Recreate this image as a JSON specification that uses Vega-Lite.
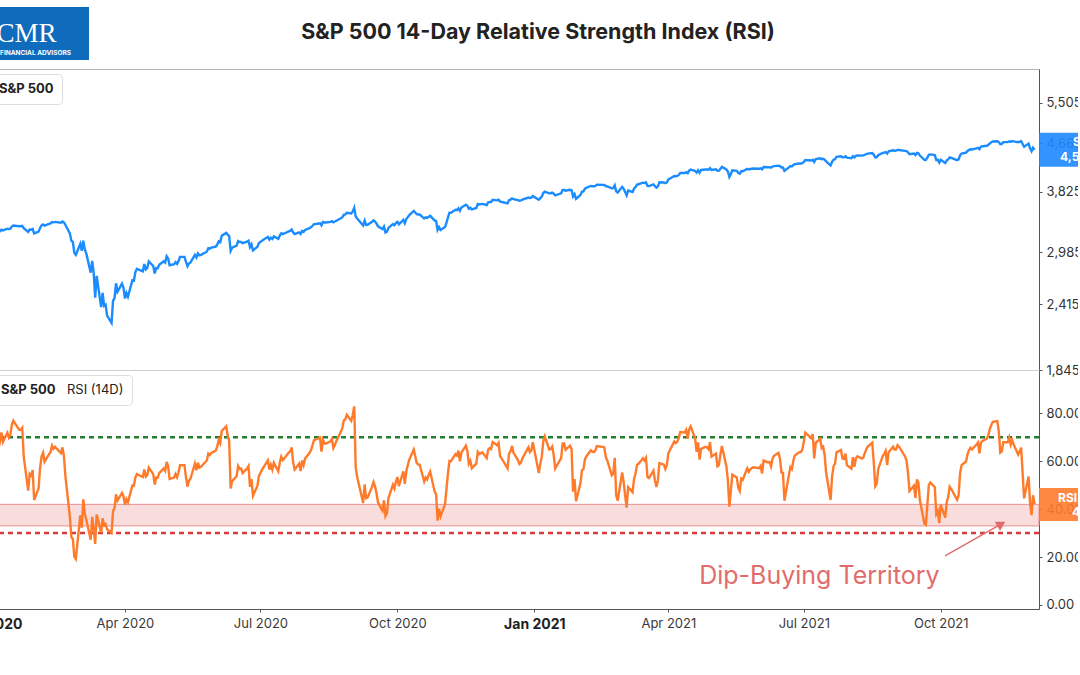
{
"$schema": "https://vega.github.io/schema/vega-lite/v6.json",
"padding": {"left": -44, "top": 7, "right": -46, "bottom": 10},
"background": "white",
"config": {"font": "Inter", "axis": {"labelFont": "Inter", "labelColor": "#333333", "domainColor": "#555555", "tickColor": "#555555", "labelFontSize": 13, "grid": false}},
"datasets": {"spx": [
{"d":"2019-12-31","p":3231,"r":67},{"d":"2020-01-02","p":3258,"r":71},{"d":"2020-01-03","p":3235,"r":63.5},{"d":"2020-01-06","p":3246,"r":65.5},
{"d":"2020-01-07","p":3237,"r":65.0},{"d":"2020-01-08","p":3253,"r":68.2},{"d":"2020-01-09","p":3275,"r":72.0},{"d":"2020-01-10","p":3265,"r":68.0},
{"d":"2020-01-13","p":3288,"r":71.9},{"d":"2020-01-14","p":3283,"r":69.9},{"d":"2020-01-15","p":3289,"r":70.9},{"d":"2020-01-16","p":3317,"r":75.2},
{"d":"2020-01-17","p":3330,"r":76.9},{"d":"2020-01-21","p":3321,"r":73.1},{"d":"2020-01-22","p":3321,"r":73.1},{"d":"2020-01-23","p":3326,"r":74.0},
{"d":"2020-01-24","p":3295,"r":61.9},{"d":"2020-01-27","p":3244,"r":47.7},{"d":"2020-01-28","p":3276,"r":54.7},{"d":"2020-01-29","p":3273,"r":54.0},
{"d":"2020-01-30","p":3284,"r":56.3},{"d":"2020-01-31","p":3226,"r":43.8},{"d":"2020-02-03","p":3249,"r":48.7},{"d":"2020-02-04","p":3298,"r":57.2},
{"d":"2020-02-05","p":3334,"r":62.1},{"d":"2020-02-06","p":3346,"r":63.6},{"d":"2020-02-07","p":3328,"r":59.8},{"d":"2020-02-10","p":3352,"r":63.0},
{"d":"2020-02-11","p":3358,"r":63.8},{"d":"2020-02-12","p":3379,"r":66.5},{"d":"2020-02-13","p":3374,"r":65.2},{"d":"2020-02-14","p":3380,"r":66.0},
{"d":"2020-02-18","p":3370,"r":63.4},{"d":"2020-02-19","p":3386,"r":65.8},{"d":"2020-02-20","p":3373,"r":62.2},{"d":"2020-02-21","p":3338,"r":53.8},
{"d":"2020-02-24","p":3226,"r":36.8},{"d":"2020-02-25","p":3128,"r":28.3},{"d":"2020-02-26","p":3116,"r":27.5},{"d":"2020-02-27","p":2979,"r":20.2},
{"d":"2020-02-28","p":2954,"r":19.2},{"d":"2020-03-02","p":3090,"r":37.4},{"d":"2020-03-03","p":3003,"r":32.3},{"d":"2020-03-04","p":3130,"r":44.1},
{"d":"2020-03-05","p":3024,"r":38.2},{"d":"2020-03-06","p":2972,"r":35.6},{"d":"2020-03-09","p":2747,"r":27.2},{"d":"2020-03-10","p":2882,"r":36.8},
{"d":"2020-03-11","p":2741,"r":32.1},{"d":"2020-03-12","p":2481,"r":25.5},{"d":"2020-03-13","p":2711,"r":37.7},{"d":"2020-03-16","p":2386,"r":30.2},
{"d":"2020-03-17","p":2529,"r":36.2},{"d":"2020-03-18","p":2398,"r":33.3},{"d":"2020-03-19","p":2409,"r":33.8},{"d":"2020-03-20","p":2305,"r":31.6},
{"d":"2020-03-23","p":2237,"r":30.1},{"d":"2020-03-24","p":2447,"r":39.2},{"d":"2020-03-25","p":2476,"r":40.4},{"d":"2020-03-26","p":2630,"r":46.2},
{"d":"2020-03-27","p":2541,"r":43.6},{"d":"2020-03-30","p":2627,"r":46.8},{"d":"2020-03-31","p":2585,"r":45.4},{"d":"2020-04-01","p":2471,"r":41.9},
{"d":"2020-04-02","p":2527,"r":44.2},{"d":"2020-04-03","p":2489,"r":42.9},{"d":"2020-04-06","p":2664,"r":49.9},{"d":"2020-04-07","p":2660,"r":49.8},
{"d":"2020-04-08","p":2750,"r":53.2},{"d":"2020-04-09","p":2790,"r":54.6},{"d":"2020-04-13","p":2762,"r":53.4},{"d":"2020-04-14","p":2846,"r":56.6},
{"d":"2020-04-15","p":2783,"r":53.6},{"d":"2020-04-16","p":2800,"r":54.3},{"d":"2020-04-17","p":2875,"r":57.4},{"d":"2020-04-20","p":2823,"r":54.6},
{"d":"2020-04-21","p":2737,"r":50.3},{"d":"2020-04-22","p":2799,"r":53.2},{"d":"2020-04-23","p":2798,"r":53.1},{"d":"2020-04-24","p":2837,"r":55.0},
{"d":"2020-04-27","p":2878,"r":57.0},{"d":"2020-04-28","p":2863,"r":56.0},{"d":"2020-04-29","p":2939,"r":59.7},{"d":"2020-04-30","p":2912,"r":57.9},
{"d":"2020-05-01","p":2831,"r":52.6},{"d":"2020-05-04","p":2843,"r":53.2},{"d":"2020-05-05","p":2868,"r":54.7},{"d":"2020-05-06","p":2848,"r":53.3},
{"d":"2020-05-07","p":2882,"r":55.4},{"d":"2020-05-08","p":2930,"r":58.3},{"d":"2020-05-11","p":2930,"r":58.3},{"d":"2020-05-12","p":2870,"r":53.3},
{"d":"2020-05-13","p":2820,"r":49.4},{"d":"2020-05-14","p":2852,"r":51.8},{"d":"2020-05-15","p":2864,"r":52.7},{"d":"2020-05-18","p":2954,"r":59.0},
{"d":"2020-05-19","p":2923,"r":56.2},{"d":"2020-05-20","p":2972,"r":59.4},{"d":"2020-05-21","p":2949,"r":57.3},{"d":"2020-05-22","p":2955,"r":57.7},
{"d":"2020-05-26","p":2992,"r":60.3},{"d":"2020-05-27","p":3036,"r":63.2},{"d":"2020-05-28","p":3030,"r":62.6},{"d":"2020-05-29","p":3044,"r":63.5},
{"d":"2020-06-01","p":3056,"r":64.4},{"d":"2020-06-02","p":3081,"r":66.2},{"d":"2020-06-03","p":3122,"r":68.9},{"d":"2020-06-04","p":3112,"r":67.5},
{"d":"2020-06-05","p":3194,"r":72.6},{"d":"2020-06-08","p":3232,"r":74.6},{"d":"2020-06-09","p":3207,"r":70.9},{"d":"2020-06-10","p":3190,"r":68.5},
{"d":"2020-06-11","p":3002,"r":48.6},{"d":"2020-06-12","p":3041,"r":51.7},{"d":"2020-06-15","p":3067,"r":53.7},{"d":"2020-06-16","p":3125,"r":58.0},
{"d":"2020-06-17","p":3113,"r":56.8},{"d":"2020-06-18","p":3115,"r":57.0},{"d":"2020-06-19","p":3098,"r":55.1},{"d":"2020-06-22","p":3118,"r":56.9},
{"d":"2020-06-23","p":3131,"r":58.0},{"d":"2020-06-24","p":3050,"r":49.3},{"d":"2020-06-25","p":3084,"r":52.5},{"d":"2020-06-26","p":3009,"r":45.6},
{"d":"2020-06-29","p":3053,"r":49.8},{"d":"2020-06-30","p":3100,"r":53.9},{"d":"2020-07-01","p":3115,"r":55.1},{"d":"2020-07-02","p":3130,"r":56.4},
{"d":"2020-07-06","p":3180,"r":60.4},{"d":"2020-07-07","p":3145,"r":56.5},{"d":"2020-07-08","p":3169,"r":58.5},{"d":"2020-07-09","p":3152,"r":56.5},
{"d":"2020-07-10","p":3185,"r":59.4},{"d":"2020-07-13","p":3155,"r":55.8},{"d":"2020-07-14","p":3197,"r":59.5},{"d":"2020-07-15","p":3227,"r":61.9},
{"d":"2020-07-16","p":3216,"r":60.5},{"d":"2020-07-17","p":3224,"r":61.2},{"d":"2020-07-20","p":3251,"r":63.6},{"d":"2020-07-21","p":3257,"r":64.1},
{"d":"2020-07-22","p":3276,"r":65.8},{"d":"2020-07-23","p":3236,"r":59.5},{"d":"2020-07-24","p":3216,"r":56.5},{"d":"2020-07-27","p":3239,"r":59.0},
{"d":"2020-07-28","p":3218,"r":55.9},{"d":"2020-07-29","p":3258,"r":60.3},{"d":"2020-07-30","p":3246,"r":58.4},{"d":"2020-07-31","p":3271,"r":61.1},
{"d":"2020-08-03","p":3295,"r":63.5},{"d":"2020-08-04","p":3306,"r":64.7},{"d":"2020-08-05","p":3327,"r":66.7},{"d":"2020-08-06","p":3349,"r":68.8},
{"d":"2020-08-07","p":3351,"r":69.0},{"d":"2020-08-10","p":3360,"r":69.9},{"d":"2020-08-11","p":3333,"r":64.0},{"d":"2020-08-12","p":3380,"r":68.9},
{"d":"2020-08-13","p":3373,"r":67.4},{"d":"2020-08-14","p":3373,"r":67.4},{"d":"2020-08-17","p":3381,"r":68.3},{"d":"2020-08-18","p":3390,"r":69.3},
{"d":"2020-08-19","p":3375,"r":65.5},{"d":"2020-08-20","p":3385,"r":66.8},{"d":"2020-08-21","p":3397,"r":68.4},{"d":"2020-08-24","p":3431,"r":72.3},
{"d":"2020-08-25","p":3444,"r":73.7},{"d":"2020-08-26","p":3479,"r":77.0},{"d":"2020-08-27","p":3485,"r":77.5},{"d":"2020-08-28","p":3508,"r":79.4},
{"d":"2020-08-31","p":3500,"r":76.9},{"d":"2020-09-01","p":3527,"r":79.2},{"d":"2020-09-02","p":3580,"r":82.9},{"d":"2020-09-03","p":3455,"r":57.4},
{"d":"2020-09-04","p":3427,"r":53.4},{"d":"2020-09-08","p":3331,"r":42.6},{"d":"2020-09-09","p":3399,"r":50.3},{"d":"2020-09-10","p":3339,"r":44.6},
{"d":"2020-09-11","p":3341,"r":44.8},{"d":"2020-09-14","p":3383,"r":49.4},{"d":"2020-09-15","p":3401,"r":51.3},{"d":"2020-09-16","p":3385,"r":49.5},
{"d":"2020-09-17","p":3357,"r":46.5},{"d":"2020-09-18","p":3319,"r":42.7},{"d":"2020-09-21","p":3281,"r":39.3},{"d":"2020-09-22","p":3315,"r":43.7},
{"d":"2020-09-23","p":3237,"r":37.1},{"d":"2020-09-24","p":3247,"r":38.3},{"d":"2020-09-25","p":3298,"r":44.6},{"d":"2020-09-28","p":3351,"r":50.2},
{"d":"2020-09-29","p":3335,"r":48.6},{"d":"2020-09-30","p":3363,"r":51.5},{"d":"2020-10-01","p":3381,"r":53.4},{"d":"2020-10-02","p":3348,"r":49.6},
{"d":"2020-10-05","p":3409,"r":55.8},{"d":"2020-10-06","p":3361,"r":50.6},{"d":"2020-10-07","p":3419,"r":55.9},{"d":"2020-10-08","p":3447,"r":58.3},
{"d":"2020-10-09","p":3477,"r":60.7},{"d":"2020-10-12","p":3535,"r":64.9},{"d":"2020-10-13","p":3512,"r":62.1},{"d":"2020-10-14","p":3489,"r":59.3},
{"d":"2020-10-15","p":3484,"r":58.6},{"d":"2020-10-16","p":3484,"r":58.6},{"d":"2020-10-19","p":3427,"r":51.5},{"d":"2020-10-20","p":3443,"r":53.2},
{"d":"2020-10-21","p":3436,"r":52.4},{"d":"2020-10-22","p":3453,"r":54.3},{"d":"2020-10-23","p":3465,"r":55.7},{"d":"2020-10-26","p":3401,"r":47.4},
{"d":"2020-10-27","p":3391,"r":46.3},{"d":"2020-10-28","p":3271,"r":35.2},{"d":"2020-10-29","p":3310,"r":40.2},{"d":"2020-10-30","p":3270,"r":37.0},
{"d":"2020-11-02","p":3310,"r":42.0},{"d":"2020-11-03","p":3370,"r":48.5},{"d":"2020-11-04","p":3443,"r":55.1},{"d":"2020-11-05","p":3510,"r":60.1},
{"d":"2020-11-06","p":3509,"r":60.0},{"d":"2020-11-09","p":3551,"r":63.0},{"d":"2020-11-10","p":3546,"r":62.4},{"d":"2020-11-11","p":3573,"r":64.4},
{"d":"2020-11-12","p":3538,"r":60.0},{"d":"2020-11-13","p":3585,"r":63.6},{"d":"2020-11-16","p":3627,"r":66.5},{"d":"2020-11-17","p":3610,"r":64.3},
{"d":"2020-11-18","p":3568,"r":59.0},{"d":"2020-11-19","p":3582,"r":60.2},{"d":"2020-11-20","p":3558,"r":57.1},{"d":"2020-11-23","p":3578,"r":59.0},
{"d":"2020-11-24","p":3636,"r":63.9},{"d":"2020-11-25","p":3630,"r":63.0},{"d":"2020-11-27","p":3638,"r":63.7},{"d":"2020-11-30","p":3622,"r":61.3},
{"d":"2020-12-01","p":3662,"r":64.9},{"d":"2020-12-02","p":3669,"r":65.5},{"d":"2020-12-03","p":3667,"r":65.1},{"d":"2020-12-04","p":3699,"r":68.0},
{"d":"2020-12-07","p":3692,"r":66.7},{"d":"2020-12-08","p":3702,"r":67.7},{"d":"2020-12-09","p":3673,"r":62.1},{"d":"2020-12-10","p":3668,"r":61.2},
{"d":"2020-12-11","p":3663,"r":60.2},{"d":"2020-12-14","p":3647,"r":57.0},{"d":"2020-12-15","p":3695,"r":63.2},{"d":"2020-12-16","p":3702,"r":64.1},
{"d":"2020-12-17","p":3722,"r":66.4},{"d":"2020-12-18","p":3709,"r":63.5},{"d":"2020-12-21","p":3695,"r":60.5},{"d":"2020-12-22","p":3687,"r":58.8},
{"d":"2020-12-23","p":3690,"r":59.3},{"d":"2020-12-24","p":3703,"r":61.3},{"d":"2020-12-28","p":3735,"r":65.8},{"d":"2020-12-29","p":3727,"r":63.8},
{"d":"2020-12-30","p":3732,"r":64.5},{"d":"2020-12-31","p":3756,"r":67.9},{"d":"2021-01-04","p":3701,"r":55.1},{"d":"2021-01-05","p":3726,"r":58.9},
{"d":"2021-01-06","p":3748,"r":61.9},{"d":"2021-01-07","p":3804,"r":68.4},{"d":"2021-01-08","p":3825,"r":70.4},{"d":"2021-01-11","p":3799,"r":64.9},
{"d":"2021-01-12","p":3801,"r":65.1},{"d":"2021-01-13","p":3810,"r":66.1},{"d":"2021-01-14","p":3795,"r":62.7},{"d":"2021-01-15","p":3768,"r":57.0},
{"d":"2021-01-19","p":3799,"r":61.3},{"d":"2021-01-20","p":3852,"r":67.4},{"d":"2021-01-21","p":3853,"r":67.5},{"d":"2021-01-22","p":3841,"r":64.8},
{"d":"2021-01-25","p":3855,"r":66.5},{"d":"2021-01-26","p":3849,"r":65.1},{"d":"2021-01-27","p":3751,"r":47.3},{"d":"2021-01-28","p":3788,"r":52.6},
{"d":"2021-01-29","p":3714,"r":43.3},{"d":"2021-02-01","p":3774,"r":50.9},{"d":"2021-02-02","p":3826,"r":56.3},{"d":"2021-02-03","p":3830,"r":56.7},
{"d":"2021-02-04","p":3872,"r":60.8},{"d":"2021-02-05","p":3887,"r":62.1},{"d":"2021-02-08","p":3915,"r":64.6},{"d":"2021-02-09","p":3911,"r":64.0},
{"d":"2021-02-10","p":3910,"r":63.8},{"d":"2021-02-11","p":3917,"r":64.5},{"d":"2021-02-12","p":3934,"r":66.3},{"d":"2021-02-16","p":3933,"r":66.0},
{"d":"2021-02-17","p":3932,"r":65.8},{"d":"2021-02-18","p":3914,"r":61.8},{"d":"2021-02-19","p":3907,"r":60.3},{"d":"2021-02-22","p":3877,"r":54.1},
{"d":"2021-02-23","p":3881,"r":54.8},{"d":"2021-02-24","p":3925,"r":61.4},{"d":"2021-02-25","p":3829,"r":45.7},{"d":"2021-02-26","p":3811,"r":43.5},
{"d":"2021-03-01","p":3901,"r":55.3},{"d":"2021-03-02","p":3870,"r":51.3},{"d":"2021-03-03","p":3820,"r":45.6},{"d":"2021-03-04","p":3768,"r":40.6},
{"d":"2021-03-05","p":3842,"r":49.2},{"d":"2021-03-08","p":3821,"r":47.1},{"d":"2021-03-09","p":3875,"r":52.7},{"d":"2021-03-10","p":3899,"r":54.9},
{"d":"2021-03-11","p":3939,"r":58.5},{"d":"2021-03-12","p":3943,"r":58.9},{"d":"2021-03-15","p":3969,"r":61.2},{"d":"2021-03-16","p":3963,"r":60.3},
{"d":"2021-03-17","p":3974,"r":61.4},{"d":"2021-03-18","p":3916,"r":53.4},{"d":"2021-03-19","p":3913,"r":53.0},{"d":"2021-03-22","p":3940,"r":56.1},
{"d":"2021-03-23","p":3911,"r":52.1},{"d":"2021-03-24","p":3889,"r":49.3},{"d":"2021-03-25","p":3910,"r":52.0},{"d":"2021-03-26","p":3975,"r":59.2},
{"d":"2021-03-29","p":3971,"r":58.6},{"d":"2021-03-30","p":3959,"r":56.8},{"d":"2021-03-31","p":3973,"r":58.4},{"d":"2021-04-01","p":4020,"r":63.3},
{"d":"2021-04-05","p":4078,"r":68.3},{"d":"2021-04-06","p":4074,"r":67.6},{"d":"2021-04-07","p":4080,"r":68.1},{"d":"2021-04-08","p":4097,"r":69.6},
{"d":"2021-04-09","p":4129,"r":72.2},{"d":"2021-04-12","p":4128,"r":72.0},{"d":"2021-04-13","p":4142,"r":73.1},{"d":"2021-04-14","p":4125,"r":69.4},
{"d":"2021-04-15","p":4170,"r":73.3},{"d":"2021-04-16","p":4185,"r":74.5},{"d":"2021-04-19","p":4163,"r":69.6},{"d":"2021-04-20","p":4135,"r":63.9},
{"d":"2021-04-21","p":4174,"r":67.9},{"d":"2021-04-22","p":4135,"r":60.7},{"d":"2021-04-23","p":4180,"r":65.2},{"d":"2021-04-26","p":4188,"r":66.0},
{"d":"2021-04-27","p":4187,"r":65.8},{"d":"2021-04-28","p":4183,"r":65.0},{"d":"2021-04-29","p":4211,"r":68.0},{"d":"2021-04-30","p":4181,"r":61.9},
{"d":"2021-05-03","p":4192,"r":63.2},{"d":"2021-05-04","p":4165,"r":57.9},{"d":"2021-05-05","p":4168,"r":58.4},{"d":"2021-05-06","p":4202,"r":62.8},
{"d":"2021-05-07","p":4233,"r":66.4},{"d":"2021-05-10","p":4189,"r":57.9},{"d":"2021-05-11","p":4153,"r":52.1},{"d":"2021-05-12","p":4063,"r":41.0},
{"d":"2021-05-13","p":4113,"r":47.7},{"d":"2021-05-14","p":4174,"r":54.4},{"d":"2021-05-17","p":4164,"r":53.2},{"d":"2021-05-18","p":4128,"r":49.0},
{"d":"2021-05-19","p":4116,"r":47.6},{"d":"2021-05-20","p":4160,"r":52.8},{"d":"2021-05-21","p":4156,"r":52.3},{"d":"2021-05-24","p":4198,"r":57.0},
{"d":"2021-05-25","p":4188,"r":55.6},{"d":"2021-05-26","p":4196,"r":56.5},{"d":"2021-05-27","p":4201,"r":57.1},{"d":"2021-05-28","p":4204,"r":57.5},
{"d":"2021-06-01","p":4202,"r":57.1},{"d":"2021-06-02","p":4208,"r":58.0},{"d":"2021-06-03","p":4192,"r":54.9},{"d":"2021-06-04","p":4230,"r":60.3},
{"d":"2021-06-07","p":4226,"r":59.5},{"d":"2021-06-08","p":4227,"r":59.7},{"d":"2021-06-09","p":4219,"r":57.8},{"d":"2021-06-10","p":4239,"r":61.0},
{"d":"2021-06-11","p":4247,"r":62.3},{"d":"2021-06-14","p":4255,"r":63.5},{"d":"2021-06-15","p":4246,"r":61.1},{"d":"2021-06-16","p":4223,"r":55.3},
{"d":"2021-06-17","p":4222,"r":55.1},{"d":"2021-06-18","p":4166,"r":43.5},{"d":"2021-06-21","p":4224,"r":54.3},{"d":"2021-06-22","p":4246,"r":57.6},
{"d":"2021-06-23","p":4242,"r":56.8},{"d":"2021-06-24","p":4266,"r":60.3},{"d":"2021-06-25","p":4281,"r":62.4},{"d":"2021-06-28","p":4291,"r":63.8},
{"d":"2021-06-29","p":4291,"r":63.8},{"d":"2021-06-30","p":4298,"r":64.9},{"d":"2021-07-01","p":4320,"r":68.0},{"d":"2021-07-02","p":4352,"r":71.9},
{"d":"2021-07-06","p":4344,"r":69.6},{"d":"2021-07-07","p":4358,"r":71.3},{"d":"2021-07-08","p":4320,"r":61.2},{"d":"2021-07-09","p":4370,"r":67.7},
{"d":"2021-07-12","p":4385,"r":69.4},{"d":"2021-07-13","p":4369,"r":65.5},{"d":"2021-07-14","p":4374,"r":66.1},{"d":"2021-07-15","p":4360,"r":62.6},
{"d":"2021-07-16","p":4327,"r":55.3},{"d":"2021-07-19","p":4259,"r":43.8},{"d":"2021-07-20","p":4323,"r":53.6},{"d":"2021-07-21","p":4359,"r":57.9},
{"d":"2021-07-22","p":4368,"r":59.0},{"d":"2021-07-23","p":4412,"r":63.7},{"d":"2021-07-26","p":4422,"r":64.7},{"d":"2021-07-27","p":4402,"r":61.1},
{"d":"2021-07-28","p":4401,"r":60.9},{"d":"2021-07-29","p":4420,"r":63.2},{"d":"2021-07-30","p":4395,"r":58.4},{"d":"2021-08-02","p":4387,"r":56.9},
{"d":"2021-08-03","p":4423,"r":61.7},{"d":"2021-08-04","p":4402,"r":57.7},{"d":"2021-08-05","p":4429,"r":61.2},{"d":"2021-08-06","p":4437,"r":62.1},
{"d":"2021-08-09","p":4432,"r":61.1},{"d":"2021-08-10","p":4436,"r":61.6},{"d":"2021-08-11","p":4448,"r":63.4},{"d":"2021-08-12","p":4460,"r":65.0},
{"d":"2021-08-13","p":4468,"r":66.1},{"d":"2021-08-16","p":4479,"r":67.7},{"d":"2021-08-17","p":4448,"r":59.5},{"d":"2021-08-18","p":4400,"r":49.6},
{"d":"2021-08-19","p":4406,"r":50.7},{"d":"2021-08-20","p":4441,"r":56.7},{"d":"2021-08-23","p":4480,"r":62.2},{"d":"2021-08-24","p":4486,"r":63.0},
{"d":"2021-08-25","p":4496,"r":64.3},{"d":"2021-08-26","p":4470,"r":58.4},{"d":"2021-08-27","p":4509,"r":63.8},{"d":"2021-08-30","p":4529,"r":66.1},
{"d":"2021-08-31","p":4523,"r":64.8},{"d":"2021-09-01","p":4524,"r":64.9},{"d":"2021-09-02","p":4537,"r":66.7},{"d":"2021-09-03","p":4535,"r":66.1},
{"d":"2021-09-07","p":4520,"r":62.0},{"d":"2021-09-08","p":4514,"r":60.4},{"d":"2021-09-09","p":4493,"r":55.0},{"d":"2021-09-10","p":4459,"r":47.6},
{"d":"2021-09-13","p":4469,"r":49.8},{"d":"2021-09-14","p":4443,"r":44.7},{"d":"2021-09-15","p":4481,"r":52.4},{"d":"2021-09-16","p":4474,"r":51.0},
{"d":"2021-09-17","p":4433,"r":43.6},{"d":"2021-09-20","p":4358,"r":34.0},{"d":"2021-09-21","p":4354,"r":33.5},{"d":"2021-09-22","p":4396,"r":41.8},
{"d":"2021-09-23","p":4449,"r":50.2},{"d":"2021-09-24","p":4455,"r":51.1},{"d":"2021-09-27","p":4443,"r":49.2},{"d":"2021-09-28","p":4352,"r":38.0},
{"d":"2021-09-29","p":4359,"r":39.2},{"d":"2021-09-30","p":4308,"r":34.2},{"d":"2021-10-01","p":4357,"r":41.8},{"d":"2021-10-04","p":4300,"r":36.5},
{"d":"2021-10-05","p":4346,"r":42.8},{"d":"2021-10-06","p":4364,"r":45.1},{"d":"2021-10-07","p":4399,"r":49.4},{"d":"2021-10-08","p":4391,"r":48.5},
{"d":"2021-10-11","p":4361,"r":45.0},{"d":"2021-10-12","p":4351,"r":43.9},{"d":"2021-10-13","p":4364,"r":45.8},{"d":"2021-10-14","p":4438,"r":55.0},
{"d":"2021-10-15","p":4471,"r":58.4},{"d":"2021-10-18","p":4487,"r":59.9},{"d":"2021-10-19","p":4519,"r":63.0},{"d":"2021-10-20","p":4537,"r":64.6},
{"d":"2021-10-21","p":4549,"r":65.6},{"d":"2021-10-22","p":4545,"r":64.9},{"d":"2021-10-25","p":4567,"r":67.0},{"d":"2021-10-26","p":4575,"r":67.8},
{"d":"2021-10-27","p":4552,"r":63.3},{"d":"2021-10-28","p":4597,"r":67.8},{"d":"2021-10-29","p":4605,"r":68.5},{"d":"2021-11-01","p":4614,"r":69.4},
{"d":"2021-11-02","p":4631,"r":71.0},{"d":"2021-11-03","p":4660,"r":73.5},{"d":"2021-11-04","p":4680,"r":75.2},{"d":"2021-11-05","p":4697,"r":76.5},
{"d":"2021-11-08","p":4702,"r":76.8},{"d":"2021-11-09","p":4685,"r":72.5},{"d":"2021-11-10","p":4646,"r":63.6},{"d":"2021-11-11","p":4650,"r":64.1},
{"d":"2021-11-12","p":4683,"r":67.9},{"d":"2021-11-15","p":4683,"r":67.9},{"d":"2021-11-16","p":4701,"r":69.9},{"d":"2021-11-17","p":4689,"r":66.9},
{"d":"2021-11-18","p":4705,"r":68.8},{"d":"2021-11-19","p":4698,"r":67.0},{"d":"2021-11-22","p":4682,"r":62.8},{"d":"2021-11-23","p":4691,"r":64.2},
{"d":"2021-11-24","p":4701,"r":65.7},{"d":"2021-11-26","p":4595,"r":44.5},{"d":"2021-11-29","p":4655,"r":53.6},{"d":"2021-11-30","p":4567,"r":42.6},
{"d":"2021-12-01","p":4513,"r":37.5},{"d":"2021-12-02","p":4577,"r":45.8},{"d":"2021-12-03","p":4538,"r":42.1}
]},
"spacing": 9,
"bounds": "flush",
"vconcat": [
 {"width": 101, "height": 53, "view": {"fill": "#0f6cbd", "stroke": null}, "data": {"values": [{}]},
  "title": {"text": "S&P 500 14-Day Relative Strength Index (RSI)", "font": "Inter", "fontSize": 21.5, "fontWeight": "bold", "color": "#222222", "anchor": "middle", "frame": "group", "baseline": "middle", "offset": -24, "dx": 499.5, "dy": 23},
  "layer": [
   {"mark": {"type": "text", "text": "CMR", "font": "Liberation Serif", "fontSize": 27, "color": "white", "dx": -12, "dy": 0}},
   {"mark": {"type": "text", "text": "FINANCIAL ADVISORS", "font": "Inter", "fontSize": 6.5, "fontWeight": "bold", "color": "white", "dx": -3, "dy": 19}}
  ]},
 {"vconcat": [
   {"width": 1051, "height": 301, "view": {"stroke": "#b5b5b5"},
    "layer": [
     {"data": {"name": "spx"},
      "mark": {"type": "line", "strokeWidth": 2.4},
      "encoding": {
        "x": {"field": "d", "type": "temporal", "scale": {"type": "utc", "domain": [{"year": 2019, "month": 12, "date": 31, "utc": true}, {"year": 2021, "month": 12, "date": 6, "utc": true}]}, "axis": null},
        "y": {"field": "p", "type": "quantitative", "scale": {"type": "log", "domain": [1845, 6316], "nice": false, "zero": false},
              "axis": {"orient": "right", "title": null, "values": [1845, 2415, 2985, 3825, 4665, 5505], "format": ",", "tickSize": 3, "labelPadding": 4}},
        "color": {"datum": "S&P 500", "scale": {"range": ["#1a8cff"]},
          "legend": {"orient": "top-left", "title": null, "symbolSize": 1, "symbolStrokeWidth": 0, "symbolOpacity": 0, "labelOffset": -15, "labelFontSize": 13, "labelFontWeight": "bold", "labelColor": "#222222", "labelFont": "Inter", "fillColor": "white", "strokeColor": "#dddddd", "cornerRadius": 4, "padding": 8, "offset": 5}}
      }},
     {"data": {"values": [{}]},
      "mark": {"type": "rect", "color": "#1e88ff", "opacity": 0.9, "x2Offset": 45, "yOffset": -17, "y2Offset": 17},
      "encoding": {"x": {"datum": {"year": 2021, "month": 12, "date": 6, "utc": true}, "type": "temporal"}, "x2": {"datum": {"year": 2021, "month": 12, "date": 6, "utc": true}}, "y": {"datum": 4538}, "y2": {"datum": 4538}}},
     {"data": {"values": [{}]},
      "mark": {"type": "text", "text": "S&P 500", "align": "left", "dx": 34, "dy": -8, "color": "white", "fontWeight": "bold", "fontSize": 12},
      "encoding": {"x": {"datum": {"year": 2021, "month": 12, "date": 6, "utc": true}, "type": "temporal"}, "y": {"datum": 4538}}},
     {"data": {"values": [{}]},
      "mark": {"type": "text", "text": "4,538.43", "align": "left", "dx": 21, "dy": 7, "color": "white", "fontWeight": "bold", "fontSize": 12},
      "encoding": {"x": {"datum": {"year": 2021, "month": 12, "date": 6, "utc": true}, "type": "temporal"}, "y": {"datum": 4538}}}
    ]},
   {"width": 1051, "height": 239, "view": {"stroke": "#d0d0d0"},
    "layer": [
     {"data": {"values": [{}]},
      "mark": {"type": "rect", "fill": "#f9dcdc", "stroke": "#e89191", "strokeWidth": 1},
      "encoding": {"y": {"datum": 42}, "y2": {"datum": 33}}},
     {"data": {"values": [{}]},
      "mark": {"type": "rule", "color": "#23802f", "strokeDash": [5, 4], "strokeWidth": 2.5},
      "encoding": {"y": {"datum": 70}}},
     {"data": {"values": [{}]},
      "mark": {"type": "rule", "color": "#d63a3a", "strokeDash": [5, 4], "strokeWidth": 2.5},
      "encoding": {"y": {"datum": 30}}},
     {"data": {"name": "spx"},
      "mark": {"type": "line", "strokeWidth": 2.4},
      "encoding": {
        "x": {"field": "d", "type": "temporal", "scale": {"type": "utc", "domain": [{"year": 2019, "month": 12, "date": 31, "utc": true}, {"year": 2021, "month": 12, "date": 6, "utc": true}]},
              "axis": {"orient": "bottom", "title": null, "format": "%b %Y", "tickSize": 3, "labelPadding": 5, "labelFlush": false, "labelOverlap": false,
                "values": [{"year": 2020, "month": 1, "date": 1, "utc": true}, {"year": 2020, "month": 4, "date": 1, "utc": true}, {"year": 2020, "month": 7, "date": 1, "utc": true}, {"year": 2020, "month": 10, "date": 1, "utc": true}, {"year": 2021, "month": 1, "date": 1, "utc": true}, {"year": 2021, "month": 4, "date": 1, "utc": true}, {"year": 2021, "month": 7, "date": 1, "utc": true}, {"year": 2021, "month": 10, "date": 1, "utc": true}],
                "labelFontWeight": {"condition": {"test": "utcmonth(datum.value) === 0", "value": "bold"}, "value": "normal"},
                "labelFontSize": {"condition": {"test": "utcmonth(datum.value) === 0", "value": 14}, "value": 13},
                "labelColor": {"condition": {"test": "utcmonth(datum.value) === 0", "value": "#222222"}, "value": "#3a3a3a"}}},
        "y": {"field": "r", "type": "quantitative", "scale": {"domain": [-1.7, 98.1], "nice": false, "zero": false},
              "axis": {"orient": "right", "title": null, "values": [0, 20, 40, 60, 80], "format": ".2f", "tickSize": 3, "labelPadding": 4}},
        "color": {"datum": "RSI (14D)", "scale": {"range": ["#ff7b2c"]},
          "legend": {"orient": "top-left", "title": "S&P 500", "titleOrient": "left", "titleFontWeight": "bold", "titleFontSize": 13, "titleColor": "#222222", "titleFont": "Inter", "titlePadding": 13, "titleBaseline": "middle",
                     "symbolSize": 1, "symbolStrokeWidth": 0, "symbolOpacity": 0, "labelOffset": -15, "labelFontSize": 13, "labelColor": "#222222", "labelFont": "Inter", "fillColor": "white", "strokeColor": "#dddddd", "cornerRadius": 4, "padding": 8, "offset": 5}}
      }},
     {"data": {"values": [{}]},
      "mark": {"type": "rect", "color": "#ff7b2c", "opacity": 0.9, "x2Offset": 45, "yOffset": -16, "y2Offset": 17},
      "encoding": {"x": {"datum": {"year": 2021, "month": 12, "date": 6, "utc": true}, "type": "temporal"}, "x2": {"datum": {"year": 2021, "month": 12, "date": 6, "utc": true}}, "y": {"datum": 42.1}, "y2": {"datum": 42.1}}},
     {"data": {"values": [{}]},
      "mark": {"type": "text", "text": "RSI", "align": "left", "dx": 19, "dy": -6, "color": "white", "fontWeight": "bold", "fontSize": 12},
      "encoding": {"x": {"datum": {"year": 2021, "month": 12, "date": 6, "utc": true}, "type": "temporal"}, "y": {"datum": 42.1}}},
     {"data": {"values": [{}]},
      "mark": {"type": "text", "text": "42.13", "align": "left", "dx": 33, "dy": 8, "color": "white", "fontWeight": "bold", "fontSize": 12},
      "encoding": {"x": {"datum": {"year": 2021, "month": 12, "date": 6, "utc": true}, "type": "temporal"}, "y": {"datum": 42.1}}},
     {"data": {"values": [{}]},
      "mark": {"type": "text", "text": "Dip-Buying Territory", "font": "Inter", "fontSize": 25, "color": "#e26b6b", "align": "center", "baseline": "alphabetic"},
      "encoding": {"x": {"datum": {"year": 2021, "month": 7, "date": 11, "hours": 12, "utc": true}, "type": "temporal"}, "y": {"datum": 8.8}}},
     {"data": {"values": [{}]},
      "mark": {"type": "rule", "color": "#e26b6b", "strokeWidth": 1.5},
      "encoding": {"x": {"datum": {"year": 2021, "month": 10, "date": 3, "hours": 21, "utc": true}, "type": "temporal"}, "y": {"datum": 20.5},
                   "x2": {"datum": {"year": 2021, "month": 11, "date": 8, "hours": 9, "utc": true}}, "y2": {"datum": 33.0}}},
     {"data": {"values": [{}]},
      "mark": {"type": "point", "shape": "triangle-right", "angle": -30, "size": 110, "filled": true, "opacity": 1, "color": "#e26b6b"},
      "encoding": {"x": {"datum": {"year": 2021, "month": 11, "date": 10, "hours": 17, "utc": true}, "type": "temporal"}, "y": {"datum": 33.8}}}
    ]}
  ], "spacing": 0, "bounds": "flush", "resolve": {"scale": {"color": "independent"}}}
]
}
